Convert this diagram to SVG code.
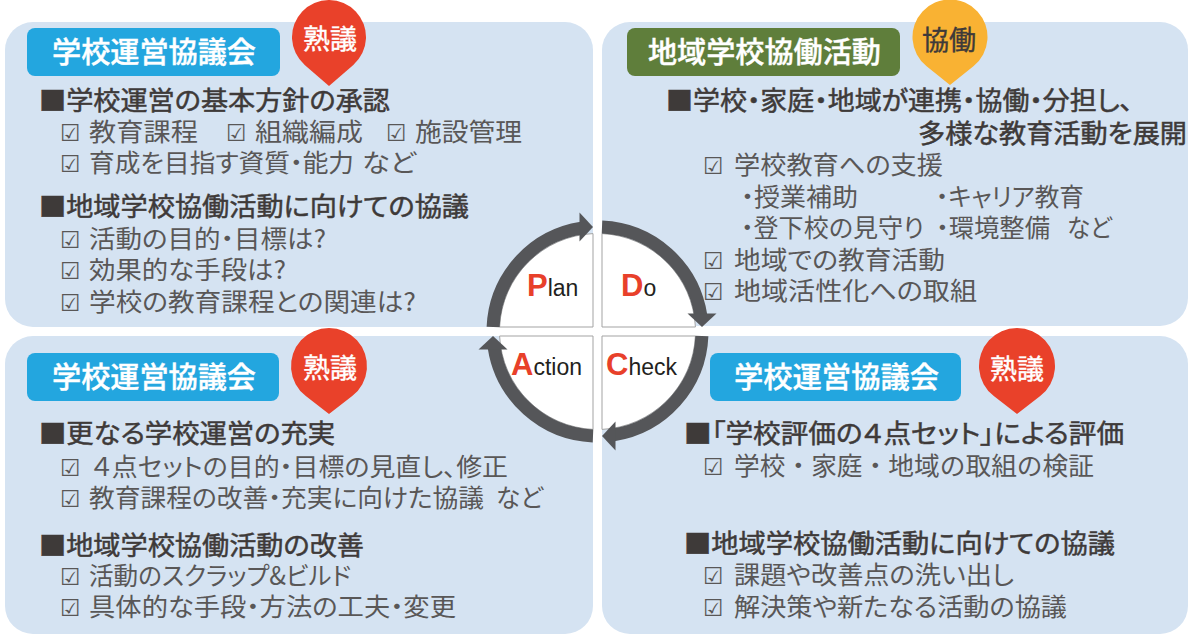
<svg xmlns="http://www.w3.org/2000/svg" xmlns:xlink="http://www.w3.org/1999/xlink" width="1189" height="635" viewBox="0 0 1189 635">
<style>
.panel{fill:#d5e3f2}
.hbox-blue{fill:#23a6df}
.hbox-green{fill:#5f7e3b}
.htxt{font-family:"Noto Sans CJK JP",sans-serif;font-size:29px;fill:#fff;font-weight:500;stroke:#fff;stroke-width:0.4}
.pintxt{font-family:"Noto Sans CJK JP",sans-serif;font-size:27px;fill:#fff;text-anchor:middle;stroke:#fff;stroke-width:0.4}
.pintxt-d{font-family:"Noto Sans CJK JP",sans-serif;font-size:27px;fill:#3e3a39;text-anchor:middle;stroke:#3e3a39;stroke-width:0.4}
.pin-red{fill:#e9412a}
.pin-orange{fill:#f9b233}
.head{font-family:"Noto Sans CJK JP",sans-serif;font-size:26px;fill:#3e3a39;stroke:#3e3a39;stroke-width:0.5;font-feature-settings:"palt"}
.item{font-family:"Noto Sans CJK JP",sans-serif;font-size:25px;fill:#595757;font-feature-settings:"palt"}
.chk{font-family:"DejaVu Sans","Noto Sans CJK JP",sans-serif;font-size:23px;fill:#595757}
.ring{fill:none;stroke:#555659;stroke-width:13}
.arrowhead{fill:#555659}
.quad{fill:#fff;stroke:#a3a3a3;stroke-width:1}
.big{font-family:"Liberation Sans",Arial,sans-serif;font-size:31px;font-weight:bold;fill:#e8402a}
.small{font-family:"Liberation Sans",Arial,sans-serif;font-size:23px;fill:#231f20}
</style>
<defs>
<g id="quarter">
<path class="quad" d="M-4.5,-4.5 L-97.9,-4.5 A98,98 0 0 1 -4.5,-97.9 Z"/>
<path class="ring" d="M-104.4,-4.5 A104.5,104.5 0 0 1 -16,-103.3"/>
<path class="arrowhead" d="M-18,-119 L-4.5,-104.5 L-18,-90 Z"/>
</g>
</defs>
<rect width="1189" height="635" fill="#fff"/>

<g id="panel-plan">
<rect class="panel" x="5" y="22" width="588" height="305" rx="28"/>
<rect class="hbox-blue" x="27" y="28" width="253" height="48" rx="8"/>
<text class="htxt" x="52" y="63" textLength="204" lengthAdjust="spacingAndGlyphs">学校運営協議会</text>
<path class="pin-red" d="M329,86 L304.7,64.9 A37,37 0 1 1 353.3,64.9 Z"/>
<text class="pintxt" x="330" y="49">熟議</text>
<text class="head" x="39" y="110" textLength="351" lengthAdjust="spacingAndGlyphs">■学校運営の基本方針の承認</text>
<text class="chk" x="60" y="141">☑</text>
<text class="item" x="89" y="141" textLength="109" lengthAdjust="spacingAndGlyphs">教育課程</text>
<text class="chk" x="226" y="141">☑</text>
<text class="item" x="255" y="141" textLength="108" lengthAdjust="spacingAndGlyphs">組織編成</text>
<text class="chk" x="386" y="141">☑</text>
<text class="item" x="415" y="141" textLength="107" lengthAdjust="spacingAndGlyphs">施設管理</text>
<text class="chk" x="60" y="172">☑</text>
<text class="item" x="89" y="172" textLength="265" lengthAdjust="spacingAndGlyphs">育成を目指す資質・能力</text>
<text class="item" x="362" y="172" textLength="54" lengthAdjust="spacingAndGlyphs">など</text>
<text class="head" x="39" y="216" textLength="430" lengthAdjust="spacingAndGlyphs">■地域学校協働活動に向けての協議</text>
<text class="chk" x="60" y="248">☑</text>
<text class="item" x="89" y="248" textLength="237" lengthAdjust="spacingAndGlyphs">活動の目的・目標は?</text>
<text class="chk" x="60" y="279">☑</text>
<text class="item" x="89" y="279" textLength="197" lengthAdjust="spacingAndGlyphs">効果的な手段は?</text>
<text class="chk" x="60" y="311">☑</text>
<text class="item" x="89" y="311" textLength="327" lengthAdjust="spacingAndGlyphs">学校の教育課程との関連は?</text>
</g>

<g id="panel-do">
<rect class="panel" x="602" y="22" width="586" height="304" rx="28"/>
<rect class="hbox-green" x="627" y="28" width="273" height="48" rx="8"/>
<text class="htxt" x="648" y="63" textLength="233" lengthAdjust="spacingAndGlyphs">地域学校協働活動</text>
<path class="pin-orange" d="M950,85 L926.6,66.3 A37.5,37.5 0 1 1 973.4,66.3 Z"/>
<text class="pintxt-d" x="949" y="50">協働</text>
<text class="head" x="666" y="110" textLength="467" lengthAdjust="spacingAndGlyphs">■学校・家庭・地域が連携・協働・分担し、</text>
<text class="head" x="918" y="143" textLength="269" lengthAdjust="spacingAndGlyphs">多様な教育活動を展開</text>
<text class="chk" x="703" y="174">☑</text>
<text class="item" x="734" y="174" textLength="209" lengthAdjust="spacingAndGlyphs">学校教育への支援</text>
<text class="item" x="741" y="206" textLength="117" lengthAdjust="spacingAndGlyphs">・授業補助</text>
<text class="item" x="936" y="206" textLength="148" lengthAdjust="spacingAndGlyphs">・キャリア教育</text>
<text class="item" x="741" y="237" textLength="183" lengthAdjust="spacingAndGlyphs">・登下校の見守り</text>
<text class="item" x="936" y="237" textLength="114" lengthAdjust="spacingAndGlyphs">・環境整備</text>
<text class="item" x="1067" y="237" textLength="45" lengthAdjust="spacingAndGlyphs">など</text>
<text class="chk" x="703" y="269">☑</text>
<text class="item" x="734" y="269" textLength="211" lengthAdjust="spacingAndGlyphs">地域での教育活動</text>
<text class="chk" x="703" y="300">☑</text>
<text class="item" x="734" y="300" textLength="243" lengthAdjust="spacingAndGlyphs">地域活性化への取組</text>
</g>

<g id="panel-action">
<rect class="panel" x="5" y="336" width="588" height="298" rx="28"/>
<rect class="hbox-blue" x="27" y="353" width="252" height="48" rx="8"/>
<text class="htxt" x="52" y="388" textLength="204" lengthAdjust="spacingAndGlyphs">学校運営協議会</text>
<path class="pin-red" d="M329,414 L305.8,396.1 A38,38 0 1 1 352.2,396.1 Z"/>
<text class="pintxt" x="330" y="378">熟議</text>
<text class="head" x="39" y="443" textLength="296" lengthAdjust="spacingAndGlyphs">■更なる学校運営の充実</text>
<text class="chk" x="60" y="476">☑</text>
<text class="item" x="92" y="476" textLength="416" lengthAdjust="spacingAndGlyphs">４点セットの目的・目標の見直し、修正</text>
<text class="chk" x="60" y="507">☑</text>
<text class="item" x="89" y="507" textLength="395" lengthAdjust="spacingAndGlyphs">教育課程の改善・充実に向けた協議</text>
<text class="item" x="496" y="507" textLength="47" lengthAdjust="spacingAndGlyphs">など</text>
<text class="head" x="39" y="555" textLength="325" lengthAdjust="spacingAndGlyphs">■地域学校協働活動の改善</text>
<text class="chk" x="60" y="585">☑</text>
<text class="item" x="89" y="585" textLength="262" lengthAdjust="spacingAndGlyphs">活動のスクラップ&amp;ビルド</text>
<text class="chk" x="60" y="616">☑</text>
<text class="item" x="89" y="616" textLength="367" lengthAdjust="spacingAndGlyphs">具体的な手段・方法の工夫・変更</text>
</g>

<g id="panel-check">
<rect class="panel" x="602" y="336" width="586" height="298" rx="28"/>
<rect class="hbox-blue" x="710" y="353" width="251" height="48" rx="8"/>
<text class="htxt" x="734" y="388" textLength="205" lengthAdjust="spacingAndGlyphs">学校運営協議会</text>
<path class="pin-red" d="M1017,414 L993.8,396.1 A38,38 0 1 1 1040.2,396.1 Z"/>
<text class="pintxt" x="1017" y="379">熟議</text>
<text class="head" x="684" y="443" textLength="440" lengthAdjust="spacingAndGlyphs">■「学校評価の４点セット」による評価</text>
<text class="chk" x="703" y="475">☑</text>
<text class="item" x="734" y="475" textLength="360" lengthAdjust="spacingAndGlyphs" style="font-feature-settings:normal">学校・家庭・地域の取組の検証</text>
<text class="head" x="684" y="553" textLength="431" lengthAdjust="spacingAndGlyphs">■地域学校協働活動に向けての協議</text>
<text class="chk" x="703" y="584">☑</text>
<text class="item" x="734" y="584" textLength="280" lengthAdjust="spacingAndGlyphs">課題や改善点の洗い出し</text>
<text class="chk" x="703" y="616">☑</text>
<text class="item" x="734" y="616" textLength="333" lengthAdjust="spacingAndGlyphs">解決策や新たなる活動の協議</text>
</g>

<g id="connectors" transform="translate(597.5,331.5)">
<use xlink:href="#quarter"/>
<use xlink:href="#quarter" transform="rotate(90)"/>
<use xlink:href="#quarter" transform="rotate(180)"/>
<use xlink:href="#quarter" transform="rotate(270)"/>
</g>

<g id="cycle-labels">
<text x="527" y="296"><tspan class="big">P</tspan><tspan class="small">lan</tspan></text>
<text x="621" y="296"><tspan class="big">D</tspan><tspan class="small">o</tspan></text>
<text x="511" y="375"><tspan class="big">A</tspan><tspan class="small">ction</tspan></text>
<text x="606" y="375"><tspan class="big">C</tspan><tspan class="small">heck</tspan></text>
</g>
</svg>
